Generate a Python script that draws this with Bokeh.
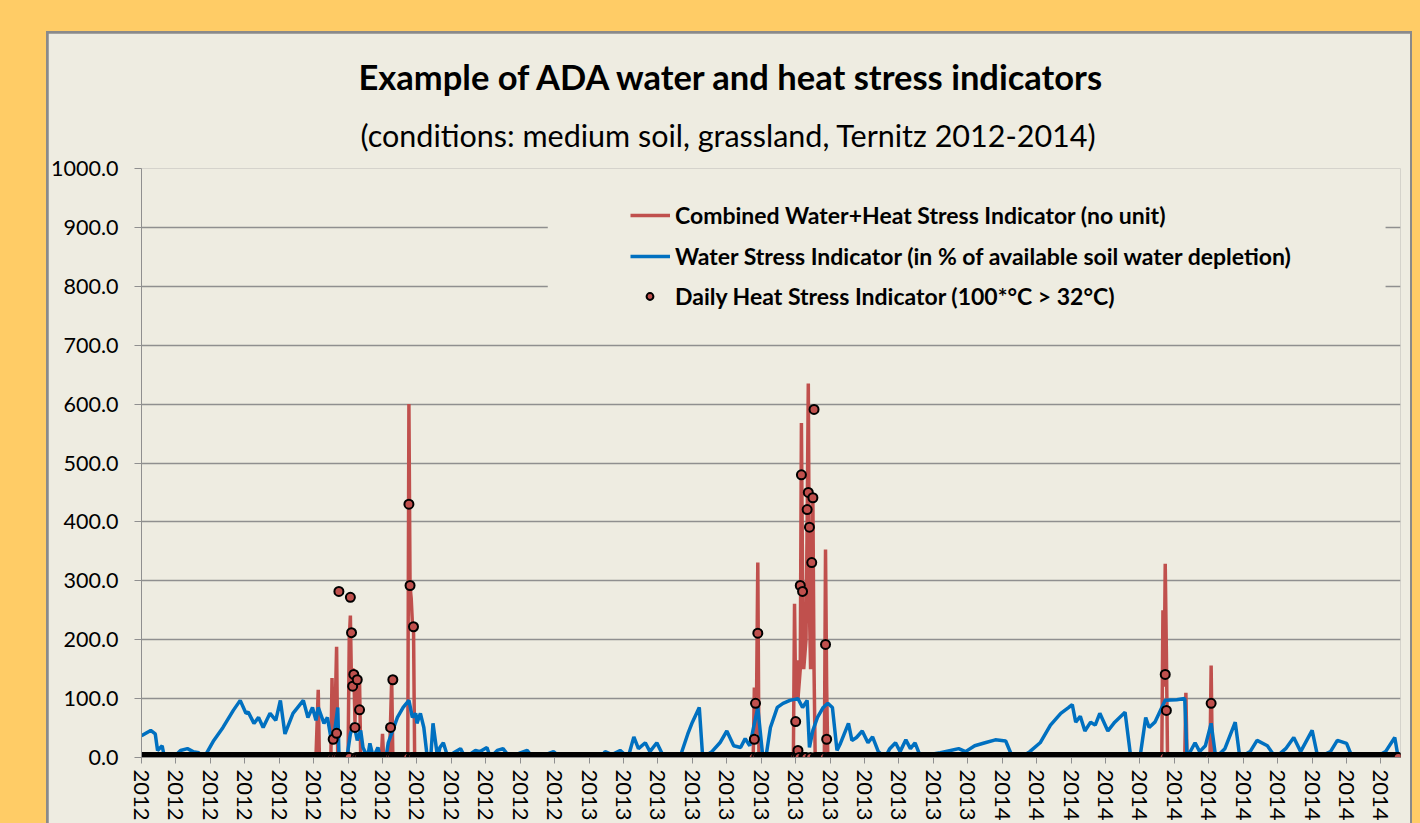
from bokeh.plotting import figure
from bokeh.models import (FixedTicker, NumeralTickFormatter, Range1d, Legend, LegendItem,
                          BoxAnnotation, Title, Spacer)
from bokeh.layouts import row, column
from bokeh.embed import file_html
from bokeh.resources import INLINE

# ---------------- data (x = day index from 2012-01-01) ----------------
n_days = 1096

tick_days = list(range(0, 1081, 30))
tick_labels = ["2012"] * 13 + ["2013"] * 12 + ["2014"] * 12

# Water stress indicator (blue line), vertices
water_day = [0, 8, 12, 14, 18, 20, 28, 34, 40, 45, 50, 51, 56, 63, 71, 80, 86, 91, 93, 98,
             102, 106, 112, 117, 121, 125, 132, 141, 145, 149, 152, 154, 159, 162, 165, 167,
             171, 172, 175, 179, 182, 185, 188, 191, 193, 197, 199, 202, 206, 208, 213, 215,
             223, 228, 233, 236, 239, 240, 243, 246, 249, 252, 254, 258, 260, 263, 267, 272,
             278, 282, 291, 295, 301, 304, 310, 315, 321, 330, 336, 341, 352, 359, 365, 400,
             404, 410, 417, 424, 429, 433, 439, 443, 449, 454, 459, 470, 476, 480, 486, 489,
             497, 504, 510, 516, 522, 526, 530, 537, 541, 544, 548, 554, 559, 565, 572, 576,
             580, 582, 585, 589, 594, 598, 602, 606, 609, 616, 619, 623, 628, 633, 637, 642,
             648, 652, 657, 661, 666, 670, 674, 679, 687, 696, 705, 712, 718, 726, 735, 744,
             753, 759, 766, 774, 783, 792, 801, 808, 811, 814, 818, 822, 827, 831, 835, 842,
             848, 857, 862, 870, 875, 878, 883, 892, 902, 909, 911, 918, 922, 927, 932, 936,
             944, 953, 957, 966, 972, 981, 988, 997, 1004, 1010, 1020, 1025, 1036, 1042, 1050,
             1055, 1075, 1084, 1092, 1095]
water_val = [37, 46, 40, 12, 20, 0, 0, 12, 15, 10, 8, 0, 5, 29, 51, 80, 97, 75, 77, 58,
             68, 51, 75, 63, 97, 40, 75, 97, 68, 85, 63, 85, 58, 68, 34, 25,
             85, 8, 0, 0, 40, 58, 29, 46, 17, 0, 24, 0, 17, 0, 0, 25,
             68, 85, 97, 68, 75, 58, 75, 51, 0, 0, 58, 0, 17, 25, 0, 8,
             15, 0, 12, 10, 17, 0, 12, 15, 0, 8, 12, 0, 5, 10, 0, 0,
             10, 5, 12, 0, 35, 15, 25, 10, 25, 5, 0, 5, 40, 60, 85, 0,
             10, 25, 45, 20, 17, 32, 20, 85, 8, 0, 51, 85, 92, 97, 100, 85,
             97, 17, 46, 68, 85, 92, 85, 12, 24, 58, 29, 34, 45, 25, 35, 10,
             0, 15, 25, 10, 30, 15, 25, 0, 5, 8, 12, 15, 10, 20, 25, 30,
             28, 0, 0, 10, 25, 55, 75, 85, 90, 60, 70, 45, 60, 55, 75, 45,
             60, 77, 0, 0, 68, 51, 60, 97, 98, 100, 0, 25, 10, 20, 58, 0,
             15, 60, 0, 10, 29, 20, 0, 15, 34, 10, 46, 0, 10, 29, 24,
             0, 0, 10, 34, 0]

# Combined water + heat stress indicator (red line), vertices
comb_day = [0, 152, 154, 155, 165, 166, 167, 169, 170, 171, 180, 181, 182, 183, 184, 185,
            186, 187, 188, 189, 190, 191, 209, 210, 211, 216, 217, 218, 219, 232, 233, 234,
            235, 236, 237, 238, 533, 534, 535, 536, 537, 538, 568, 569, 570, 571, 572, 574,
            575, 576, 577, 579, 580, 581, 582, 583, 584, 585, 586, 587, 595, 596, 597, 598,
            889, 890, 891, 892, 893, 894, 909, 910, 911, 931, 932, 933, 1095]
comb_val = [0, 0, 115, 0, 0, 135, 30, 100, 188, 0, 0, 200, 241, 120, 150, 148,
            60, 140, 144, 80, 130, 0, 0, 40, 0, 0, 60, 134, 0, 0, 600, 290,
            270, 230, 225, 0, 0, 119, 40, 120, 331, 0, 0, 261, 100, 165, 100, 150,
            568, 300, 150, 200, 400, 635, 250, 150, 300, 436, 150, 0, 0, 353, 120, 0,
            0, 250, 120, 329, 180, 0, 0, 110, 0, 0, 156, 0, 0]

# Daily heat stress indicator (markers): non-zero days; every other day is 0
heat_event_day = [167, 170, 172, 182, 183, 184, 185, 186, 188, 190, 217, 219, 233, 234, 237,
                  534, 535, 537, 570, 572, 574, 575, 576, 580, 581, 582, 584, 585, 586, 596, 597,
                  892, 893, 932]
heat_event_val = [31, 41, 282, 272, 212, 121, 141, 51, 132, 81, 51, 132, 430, 292, 222,
                  31, 92, 211, 61, 12, 292, 480, 282, 421, 450, 391, 331, 441, 591, 192, 31,
                  141, 80, 92]

heat_day = list(range(n_days))
heat_val = [0.0] * n_days
for d, v in zip(heat_event_day, heat_event_val):
    heat_val[d] = v

# ---------------- styling ----------------
FONT = "Lato"
BEIGE = "#EEECE1"
ORANGE = "#FFCC66"
GRID = "#8f8f8f"
RED = "#C0504D"
BLUE = "#0070C0"

p = figure(width=1362, height=790, x_range=Range1d(0, 1097), y_range=Range1d(0, 1000),
           output_backend="svg", toolbar_location=None, title=None,
           background_fill_color=BEIGE, border_fill_color=BEIGE,
           min_border_left=93, min_border_right=10, min_border_top=135, min_border_bottom=66,
           outline_line_color=None)

p.add_layout(Title(text="(conditions: medium soil, grassland, Ternitz 2012-2014)", align="left",
                   offset=219, text_font=FONT, text_font_size="30.5px", text_font_style="normal",
                   text_color="black", standoff=31), "above")
p.add_layout(Title(text="Example of ADA water and heat stress indicators", align="left",
                   offset=217, text_font=FONT, text_font_size="34.5px", text_font_style="bold",
                   text_color="black", standoff=5), "above")

# axes
p.xaxis.ticker = FixedTicker(ticks=tick_days)
p.xaxis.major_label_overrides = {d: lab for d, lab in zip(tick_days, tick_labels)}
p.xaxis.major_label_orientation = "vertical"
p.xaxis.major_label_text_font = FONT
p.xaxis.major_label_text_font_size = "22px"
p.xaxis.major_label_text_color = "black"
p.xaxis.major_label_standoff = 6
p.xaxis.major_tick_out = 6
p.xaxis.major_tick_in = 0
p.xaxis.minor_tick_line_color = None
p.xaxis.axis_line_color = GRID
p.xaxis.major_tick_line_color = GRID

p.yaxis.ticker = FixedTicker(ticks=list(range(0, 1001, 100)))
p.yaxis.formatter = NumeralTickFormatter(format="0.0")
p.yaxis.major_label_text_font = FONT
p.yaxis.major_label_text_font_size = "21.5px"
p.yaxis.major_label_text_color = "black"
p.yaxis.major_label_standoff = 16
p.yaxis.major_tick_out = 7
p.yaxis.major_tick_in = 0
p.yaxis.minor_tick_line_color = None
p.yaxis.axis_line_color = GRID
p.yaxis.major_tick_line_color = GRID

p.xgrid.grid_line_color = None
p.ygrid.grid_line_color = GRID
p.ygrid.grid_line_width = 1.5

# legend background box (hides gridlines behind the legend)
p.add_layout(BoxAnnotation(left=354, right=1084, bottom=742, top=971, fill_color=BEIGE,
                           fill_alpha=1.0, line_color=None))

r_red = p.line(comb_day, comb_val, line_color=RED, line_width=3.5)
r_blue = p.line(water_day, water_val, line_color=BLUE, line_width=3.5)
r_heat = p.scatter(heat_day, heat_val, size=9, fill_color=RED, line_color="black", line_width=2)

legend_font = dict(label_text_font=FONT, label_text_font_size="23px",
                   label_text_font_style="bold", label_text_color="black")

legend = Legend(items=[
    LegendItem(label="Combined Water+Heat Stress Indicator (no unit)", renderers=[r_red]),
    LegendItem(label="Water Stress Indicator (in % of available soil water depletion)", renderers=[r_blue]),
], location=(489, 483), background_fill_alpha=0, border_line_color=None,
    glyph_width=40, glyph_height=36, label_height=36,
    spacing=5, padding=0, margin=0, label_standoff=5, **legend_font)
p.add_layout(legend)

legend2 = Legend(items=[
    LegendItem(label="Daily Heat Stress Indicator (100*°C > 32°C)", renderers=[r_heat]),
], location=(500, 447), background_fill_alpha=0, border_line_color=None,
    glyph_width=17, glyph_height=26, label_height=26,
    spacing=0, padding=0, margin=0, label_standoff=17, **legend_font)
p.add_layout(legend2)

p.margin = (2, 2, 0, 2)
panel = column(p, styles={"background-color": "#8a8a8a"})
page = row(Spacer(width=46),
           column(Spacer(height=31), panel),
           Spacer(width=8),
           styles={"background-color": ORANGE})

open("out.html", "w").write(file_html(page, INLINE))
